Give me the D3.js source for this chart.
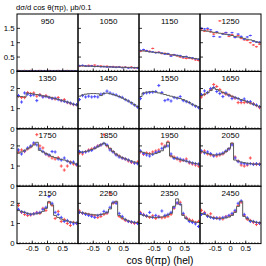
<!DOCTYPE html>
<html>
<head>
<meta charset="UTF-8">
<script src="https://cdn.jsdelivr.net/npm/d3@7"></script>
<style>
  body { margin: 0; background: #fff; }
  text { font-family: "Liberation Sans", Arial, sans-serif; fill: #000; }
</style>
</head>
<body>
<svg id="chart" width="266" height="266"></svg>
<script>

// bin centres, cos theta (hel)
var bins = [-0.95,-0.85,-0.75,-0.65,-0.55,-0.45,-0.35,-0.25,-0.15,-0.05,0.05,0.15,0.25,0.35,0.45,0.55,0.65,0.75,0.85,0.95];
var xTicks = [-0.5, 0, 0.5];
var yTicksTop = [0, 0.5, 1, 1.5];
var yTicks = [0, 1, 2];

// m = model (grey step), r = red points, b = blue points
var m950 = [0.02,0.02,0.02,0.02,0.02,0.02,0.02,0.02,0.02,0.02,0.02,0.02,0.02,0.02,0.02,0.02,0.02,0.02,0.02,0.02];
var r950 = [0.03,0.02,0.03,0.02,0.03,0.02,0.02,0.03,0.02,0.02,0.03,0.02,0.02,0.03,0.02,0.02,0.03,0.02,0.02,0.02];
var b950 = [0.02,0.02,0.02,0.02,0.02,0.02,0.02,0.02,0.02,0.02,0.02,0.02,0.02,0.02,0.02,0.02,0.02,0.02,0.02,0.02];

var m1050 = [0.19,0.19,0.18,0.18,0.18,0.17,0.17,0.17,0.16,0.16,0.16,0.15,0.15,0.15,0.14,0.14,0.14,0.13,0.13,0.13];
var r1050 = [0.18,0.20,0.19,0.21,0.20,0.22,0.18,0.19,0.17,0.18,0.16,0.17,0.15,0.16,0.14,0.15,0.13,0.15,0.12,0.13];
var b1050 = [0.20,0.21,0.19,0.18,0.19,0.17,0.18,0.16,0.17,0.15,0.16,0.15,0.14,0.15,0.13,0.14,0.12,0.13,0.13,0.12];

var m1150 = [0.72,0.71,0.70,0.68,0.67,0.66,0.65,0.63,0.62,0.60,0.58,0.57,0.55,0.53,0.52,0.50,0.48,0.46,0.45,0.43];
var r1150 = [0.70,0.74,0.72,0.70,0.80,0.66,0.67,0.62,0.63,0.60,0.56,0.58,0.54,0.50,0.47,0.45,0.46,0.44,0.40,0.38];
var b1150 = [0.73,0.76,0.72,0.69,0.68,0.65,0.66,0.64,0.60,0.62,0.53,0.58,0.56,0.55,0.50,0.52,0.48,0.47,0.44,0.42];

var m1250 = [1.42,1.42,1.40,1.38,1.36,1.35,1.33,1.31,1.29,1.27,1.25,1.22,1.20,1.18,1.15,1.12,1.10,1.07,1.03,1.00];
var r1250 = [1.44,1.40,1.45,1.38,1.30,1.35,1.76,1.32,1.35,1.22,1.28,1.20,1.25,1.15,1.10,1.08,1.00,0.92,0.86,0.95];
var b1250 = [1.50,1.48,1.50,1.45,1.22,1.38,1.20,1.30,1.35,1.28,1.35,1.18,1.30,1.22,1.12,1.20,1.25,1.05,1.02,1.02];

var m1350 = [1.60,1.60,1.58,1.77,1.75,1.72,1.70,1.67,1.64,1.61,1.58,1.54,1.50,1.46,1.42,1.38,1.33,1.28,1.22,1.18];
var r1350 = [1.62,1.55,1.55,1.80,1.75,1.78,1.62,1.70,1.60,1.65,1.55,1.52,1.48,1.55,1.40,1.45,1.30,1.25,1.20,1.20];
var b1350 = [1.65,1.33,1.78,1.72,1.65,1.68,1.40,1.66,1.58,1.60,1.56,1.50,1.52,1.45,1.40,1.36,1.32,1.28,1.22,1.20];

var m1450 = [1.62,1.68,1.72,1.74,1.75,1.75,1.74,1.65,1.76,1.77,1.74,1.70,1.65,1.60,1.53,1.46,1.38,1.30,1.20,1.10];
var r1450 = [];
var b1450 = [1.45,1.65,1.58,1.62,1.58,1.60,1.58,1.72,1.75,1.87,1.78,1.72,1.68,1.60,1.56,1.45,1.38,1.28,1.18,1.08];

var m1550 = [1.60,1.78,1.82,1.84,1.85,1.82,1.78,1.74,1.70,1.66,1.62,1.58,1.54,1.50,1.45,1.38,1.30,1.22,1.15,1.08];
var r1550 = [];
var b1550 = [1.50,1.75,1.78,1.80,1.82,1.85,2.15,1.80,1.40,1.45,1.38,1.55,1.52,1.60,1.40,1.35,1.30,1.20,1.12,1.05];

var m1650 = [1.65,1.72,1.80,1.90,2.03,1.95,1.88,1.80,1.74,1.68,1.62,1.56,1.50,1.45,1.40,1.34,1.28,1.22,1.16,1.10];
var r1650 = [1.58,1.70,1.80,1.95,2.20,2.10,1.95,1.80,1.72,1.68,1.60,1.52,1.30,1.30,1.30,1.32,1.28,1.25,1.15,1.05];
var b1650 = [1.70,1.88,1.80,2.00,2.05,1.85,1.75,1.60,1.78,1.65,1.50,1.55,1.50,1.40,1.48,1.35,1.35,1.22,1.18,1.10];

var m1750 = [1.64,1.70,1.78,1.86,1.95,2.05,2.18,1.78,1.70,1.62,1.55,1.48,1.42,1.38,1.33,1.30,1.25,1.20,1.15,1.10];
var r1750 = [1.70,1.80,1.72,1.85,1.95,2.10,2.56,2.00,1.90,1.60,1.50,1.40,1.35,1.42,1.00,0.80,1.00,1.20,1.10,1.05];
var b1750 = [1.80,1.60,1.75,1.90,2.00,2.15,2.05,1.85,1.72,1.60,1.55,1.72,1.70,1.35,1.30,1.40,1.25,1.15,1.20,1.08];

var m1850 = [1.68,1.70,1.72,1.76,1.82,1.88,1.96,2.06,2.14,2.02,1.88,1.72,1.60,1.50,1.42,1.36,1.30,1.25,1.20,1.16];
var r1850 = [1.65,1.60,1.72,1.80,1.85,1.90,2.00,2.05,2.56,2.00,1.85,1.72,1.58,1.50,1.40,1.35,1.25,1.18,1.15,1.20];
var b1850 = [1.72,1.68,1.70,1.75,1.78,1.90,1.98,2.05,2.12,2.05,1.80,1.70,1.55,1.45,1.40,1.35,1.30,1.22,1.15,1.12];

var m1950 = [1.72,1.68,1.63,1.60,1.60,1.62,1.68,1.76,1.95,2.18,1.50,1.42,1.36,1.32,1.28,1.24,1.20,1.16,1.13,1.10];
var r1950 = [1.70,1.58,1.65,1.62,1.70,1.75,1.80,2.10,2.00,2.20,1.50,1.45,1.35,1.25,1.28,1.35,1.15,1.10,1.05,1.00];
var b1950 = [1.75,1.62,1.55,1.50,1.58,1.68,1.72,1.88,1.95,2.00,1.60,1.38,1.40,1.35,1.30,1.25,1.20,1.15,1.12,1.10];

var m2050 = [1.72,1.68,1.62,1.58,1.55,1.55,1.57,1.62,1.72,1.88,2.14,1.30,1.25,1.20,1.17,1.14,1.12,1.10,1.10,1.10];
var r2050 = [1.70,1.75,1.60,1.55,1.52,1.50,1.55,1.60,1.72,1.85,2.10,1.45,1.25,1.05,1.00,1.05,1.40,1.10,1.08,1.10];
var b2050 = [1.75,1.65,1.70,1.62,1.50,1.58,1.60,1.65,1.75,1.85,2.05,1.40,1.22,1.15,1.12,1.10,1.12,1.08,1.12,1.08];

var m2150 = [1.64,1.60,1.55,1.50,1.47,1.47,1.48,1.52,1.60,1.75,2.08,1.92,1.40,1.30,1.22,1.16,1.12,1.08,1.06,1.05];
var r2150 = [1.90,1.55,1.45,1.40,1.42,1.48,1.55,1.50,1.75,1.65,2.05,1.90,1.25,1.60,1.10,1.20,1.00,0.90,1.05,1.00];
var b2150 = [1.70,1.58,1.55,1.48,1.45,1.48,1.52,1.55,1.70,1.80,2.34,2.00,1.55,1.45,1.30,1.10,1.15,1.05,0.98,1.02];

var m2250 = [1.56,1.53,1.50,1.47,1.45,1.43,1.42,1.44,1.48,1.55,1.72,2.02,2.10,1.40,1.28,1.20,1.13,1.08,1.06,1.05];
var r2250 = [1.62,1.50,1.48,1.45,1.40,1.38,1.30,1.35,1.45,1.50,2.48,2.00,2.05,1.35,1.25,1.15,1.10,1.05,1.00,1.05];
var b2250 = [1.55,1.52,1.45,1.40,1.35,1.30,1.40,1.45,1.60,1.55,1.80,2.05,2.00,1.50,1.35,1.20,1.10,1.08,1.05,1.00];

var m2350 = [1.44,1.40,1.36,1.33,1.31,1.30,1.30,1.32,1.36,1.42,1.50,1.85,2.22,1.95,1.40,1.25,1.15,1.10,1.07,1.05];
var r2350 = [1.55,1.45,1.35,1.30,1.38,1.25,1.35,1.28,1.30,1.35,1.45,1.75,2.00,2.05,1.45,1.30,1.20,1.15,1.05,1.10];
var b2350 = [1.50,1.42,1.38,1.55,1.30,1.40,1.32,1.62,1.40,1.45,1.55,1.80,2.02,1.95,1.50,1.25,1.10,1.05,0.98,0.85];

var m2450 = [1.50,1.45,1.38,1.32,1.28,1.25,1.25,1.26,1.28,1.32,1.40,1.55,1.85,2.10,1.35,1.25,1.15,1.10,1.06,1.05];
var r2450 = [1.65,1.55,1.40,1.48,1.30,1.25,1.28,1.22,1.35,1.38,1.45,1.60,1.90,2.05,1.40,1.20,1.15,1.05,0.95,1.00];
var b2450 = [1.45,1.50,1.35,1.30,1.25,1.28,1.22,1.30,1.32,1.40,1.50,1.65,2.00,2.12,1.45,1.28,1.10,1.10,1.05,1.02];

var errTop = 0.03, errOther = 0.08;

var panels = [
  {e: 950,  m: m950,  r: r950,  b: b950},
  {e: 1050, m: m1050, r: r1050, b: b1050},
  {e: 1150, m: m1150, r: r1150, b: b1150},
  {e: 1250, m: m1250, r: r1250, b: b1250},
  {e: 1350, m: m1350, r: r1350, b: b1350},
  {e: 1450, m: m1450, r: r1450, b: b1450},
  {e: 1550, m: m1550, r: r1550, b: b1550},
  {e: 1650, m: m1650, r: r1650, b: b1650},
  {e: 1750, m: m1750, r: r1750, b: b1750},
  {e: 1850, m: m1850, r: r1850, b: b1850},
  {e: 1950, m: m1950, r: r1950, b: b1950},
  {e: 2050, m: m2050, r: r2050, b: b2050},
  {e: 2150, m: m2150, r: r2150, b: b2150},
  {e: 2250, m: m2250, r: r2250, b: b2250},
  {e: 2350, m: m2350, r: r2350, b: b2350},
  {e: 2450, m: m2450, r: r2450, b: b2450}
];

var svg = d3.select("#chart");
var left = 17, top0 = 14, colW = 61, rowH = 57.4;
var halfBin = 0.05;

// title
svg.append("text").attr("x", 16).attr("y", 9.5).attr("font-size", 7.6)
  .text("dσ/d cos θ(πp), μb/0.1");
svg.append("text").attr("x", 160).attr("y", 263.5).attr("font-size", 10.2)
  .attr("text-anchor", "middle").text("cos θ(πp) (hel)");

panels.forEach(function (p, k) {
  var col = k % 4, row = Math.floor(k / 4);
  var px = left + col * colW, py = top0 + row * rowH;
  var x = d3.scaleLinear().domain([-1, 1]).range([px, px + colW]);
  var y = d3.scaleLinear().domain([0, row === 0 ? 2 : 2.85]).range([py + rowH, py]);
  var err = row === 0 ? errTop : errOther;
  var g = svg.append("g");

  // points
  function drawPts(vals, color) {
    vals.forEach(function (v, i) {
      var cx = x(bins[i]);
      g.append("line").attr("x1", cx - 1.5).attr("x2", cx + 1.5)
        .attr("y1", y(v)).attr("y2", y(v)).attr("stroke", color).attr("stroke-width", 1);
      g.append("line").attr("x1", cx).attr("x2", cx)
        .attr("y1", y(v - err)).attr("y2", y(v + err)).attr("stroke", color).attr("stroke-width", 1);
    });
  }
  drawPts(p.r, "#ff4d4d");
  drawPts(p.b, "#4a4aff");

  // model step
  var pts = p.m.map(function (v, i) { return [bins[i] - halfBin, v]; });
  pts.push([1, p.m[p.m.length - 1]]);
  g.append("path").datum(pts)
    .attr("d", d3.line().x(function (d) { return x(d[0]); }).y(function (d) { return y(d[1]); }).curve(d3.curveStepAfter))
    .attr("fill", "none").attr("stroke", "#5a5a5a").attr("stroke-width", 1);

  // frame
  g.append("rect").attr("x", px).attr("y", py).attr("width", colW).attr("height", rowH)
    .attr("fill", "none").attr("stroke", "#000").attr("stroke-width", 1);

  // x ticks (inside, bottom)
  bins.forEach(function (b) {
    g.append("line").attr("x1", x(b - halfBin)).attr("x2", x(b - halfBin))
      .attr("y1", py + rowH).attr("y2", py + rowH - 1.5).attr("stroke", "#000").attr("stroke-width", 0.6);
  });
  xTicks.forEach(function (t) {
    g.append("line").attr("x1", x(t)).attr("x2", x(t))
      .attr("y1", py + rowH).attr("y2", py + rowH - 3).attr("stroke", "#000").attr("stroke-width", 0.8);
  });
  // y ticks (inside, left)
  var yt = row === 0 ? yTicksTop : yTicks;
  yt.forEach(function (t) {
    g.append("line").attr("x1", px).attr("x2", px + 3)
      .attr("y1", y(t)).attr("y2", y(t)).attr("stroke", "#000").attr("stroke-width", 0.8);
  });

  // energy label
  g.append("text").attr("x", px + colW / 2).attr("y", py + 9.5).attr("font-size", 8)
    .attr("text-anchor", "middle").text(p.e);

  // tick labels
  if (col === 0) {
    yt.forEach(function (t) {
      g.append("text").attr("x", px - 2.5).attr("y", y(t) + 2.8).attr("font-size", 7.8)
        .attr("text-anchor", "end").text(t);
    });
  }
  if (row === 3) {
    xTicks.forEach(function (t) {
      g.append("text").attr("x", x(t)).attr("y", py + rowH + 7.2).attr("font-size", 7.6)
        .attr("text-anchor", "middle").text(t);
    });
  }
});
</script>
</body>
</html>
